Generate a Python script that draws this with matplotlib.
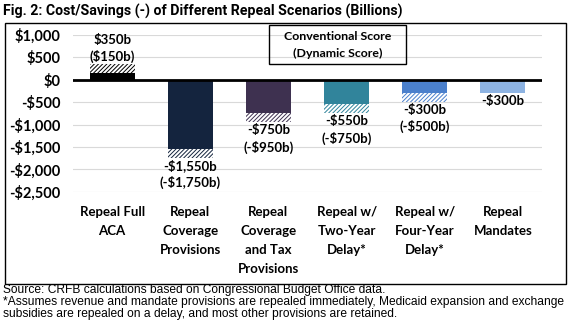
import matplotlib
matplotlib.use("Agg")
import matplotlib.pyplot as plt
from matplotlib.patches import Rectangle

categories = ["Repeal Full\nACA", "Repeal\nCoverage\nProvisions", "Repeal\nCoverage\nand Tax\nProvisions",
              "Repeal w/\nTwo-Year\nDelay*", "Repeal w/\nFour-Year\nDelay*", "Repeal\nMandates"]
conventional = [350, -1550, -750, -550, -300, -300]
dynamic = [150, -1750, -950, -750, -500, None]
labels_conv = ["$350b", "-$1,550b", "-$750b", "-$550b", "-$300b", "-$300b"]
labels_dyn = ["($150b)", "(-$1,750b)", "(-$950b)", "(-$750b)", "(-$500b)", None]
colors = ["#000000", "#14243e", "#3e3150", "#31849b", "#4b80cc", "#8db3e2"]
yticks = [1000, 500, 0, -500, -1000, -1500, -2000, -2500]
ytick_labels = ["$1,000", "$500", "$0", "-$500", "-$1,000", "-$1,500", "-$2,000", "-$2,500"]

W, H = 571, 326
fig = plt.figure(figsize=(W / 100, H / 100), dpi=100)
plt.rcParams['hatch.linewidth'] = 0.7

def fx(px):
    return px / W

def fy(py):
    return 1 - py / H

ax = fig.add_axes([fx(73), fy(191.7), fx(542) - fx(73), fy(35) - fy(191.7)])
ax.set_xlim(-0.5, 5.5)
ax.set_ylim(-2500, 1000)
for s in ax.spines.values():
    s.set_visible(False)
ax.set_yticks(yticks)
ax.set_yticklabels(ytick_labels, fontfamily="Lato", fontweight="bold", fontsize=10.5)
ax.tick_params(axis='y', length=0, pad=9)
ax.set_xticks([])
ax.yaxis.grid(True, color="#d9d9d9", lw=0.8)
ax.set_axisbelow(True)

x = list(range(len(categories)))
width = 0.575
for i in x:
    c = conventional[i]
    d = dynamic[i]
    if d is None:
        ax.bar(i, c, width=width, color=colors[i], zorder=2)
        continue
    solid = c if abs(c) < abs(d) else d
    other = d if solid == c else c
    ax.bar(i, solid, width=width, color=colors[i], zorder=2)
    ax.bar(i, other - solid, bottom=solid, width=width, facecolor="white",
           edgecolor=colors[i], hatch="////////", linewidth=0, zorder=2)

ax.axhline(0, color="black", lw=2, zorder=3)

# data labels
lab_kw = dict(fontfamily="Lato", fontweight="bold", fontsize=9.5, ha="center", va="center")
for i in x:
    c = conventional[i]
    d = dynamic[i]
    ext = c if d is None else (c if abs(c) > abs(d) else d)
    if ext > 0:
        ax.annotate(labels_conv[i], (i, ext), xytext=(0, 17.7), textcoords="offset points", **lab_kw)
        ax.annotate(labels_dyn[i], (i, ext), xytext=(0, 5.8), textcoords="offset points", **lab_kw)
    else:
        ax.annotate(labels_conv[i], (i, ext), xytext=(0, -5.6), textcoords="offset points", **lab_kw)
        if labels_dyn[i] is not None:
            ax.annotate(labels_dyn[i], (i, ext), xytext=(0, -17.8), textcoords="offset points", **lab_kw)

# category labels
for i in x:
    ax.annotate(categories[i], (i, -2500), xytext=(0, -10), textcoords="offset points",
                ha="center", va="top", fontfamily="Lato", fontweight="bold", fontsize=9.5,
                linespacing=1.7, annotation_clip=False)

# legend box
fig.patches.append(Rectangle((fx(269), fy(64)), fx(406) - fx(269), fy(25) - fy(64),
                             transform=fig.transFigure, fill=False, edgecolor="black", lw=1))
fig.text(fx(337.5), fy(36), "Conventional Score", ha="center", va="center",
         fontfamily="Lato", fontweight="bold", fontsize=8.9)
fig.text(fx(337.5), fy(53), "(Dynamic Score)", ha="center", va="center",
         fontfamily="Lato", fontweight="bold", fontsize=8.9)

# outer frame
fig.patches.append(Rectangle((fx(5), fy(284)), fx(566) - fx(5), fy(23) - fy(284),
                             transform=fig.transFigure, fill=False, edgecolor="black", lw=1))

fig.text(fx(3), fy(11), "Fig. 2: Cost/Savings (-) of Different Repeal Scenarios (Billions)",
         ha="left", va="center", fontfamily="Roboto", fontweight="bold", fontsize=10.2)

foot_kw = dict(ha="left", va="center", fontfamily="Liberation Sans", fontsize=8.65)
fig.text(fx(3), fy(290.5), "Source: CRFB calculations based on Congressional Budget Office data.", **foot_kw)
fig.text(fx(3), fy(302), "*Assumes revenue and mandate provisions are repealed immediately, Medicaid expansion and exchange", **foot_kw)
fig.text(fx(3), fy(313.5), "subsidies are repealed on a delay, and most other provisions are retained.", **foot_kw)

fig.savefig("out.png", dpi=100)
